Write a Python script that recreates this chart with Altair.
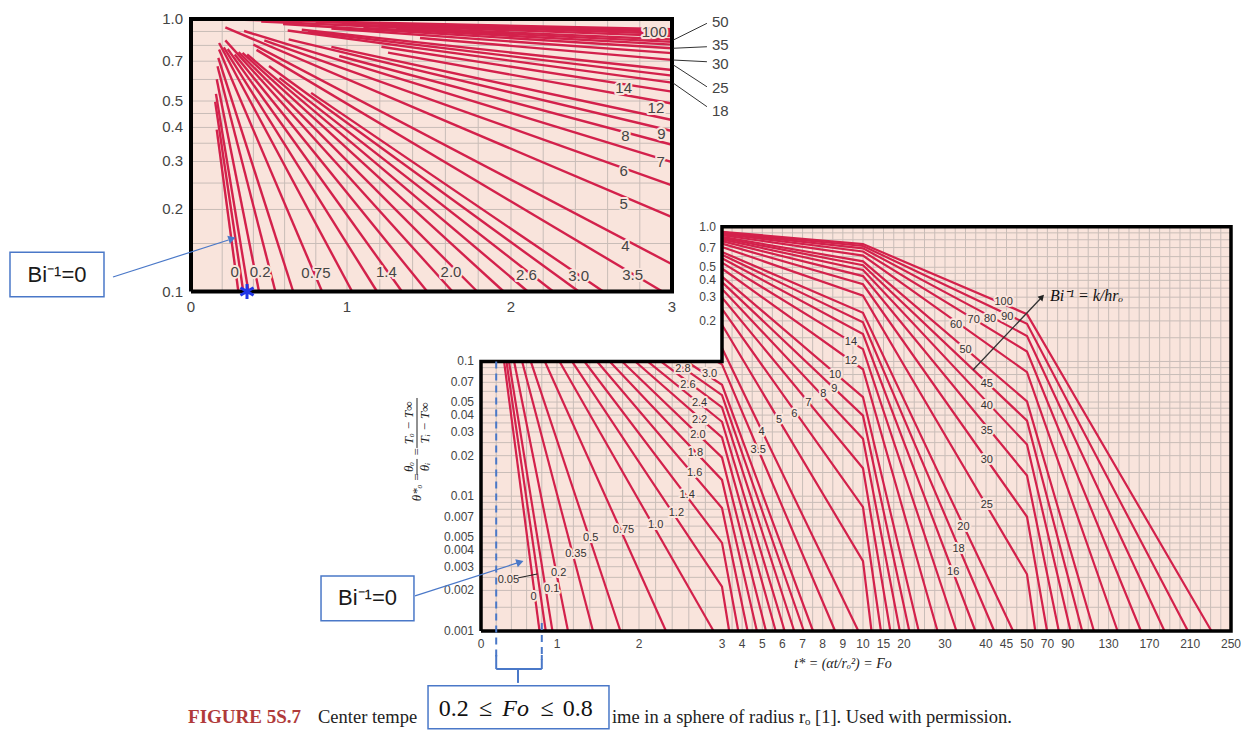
import altair as alt
import pandas as pd

BG = "#f9e4dc"
GRID = "#c9bdb8"
RED = "#d3214b"
BLUE = "#4a78c8"
TXT = "#444444"

# ---------------- data: inverse Biot number of each curve ----------------
bi_inv = [0, 0.05, 0.1, 0.2, 0.35, 0.5, 0.75, 1.0, 1.2, 1.4, 1.6, 1.8, 2.0, 2.2, 2.4, 2.6, 2.8, 3.0, 3.5,
          4, 5, 6, 7, 8, 9, 10, 12, 14, 16, 18, 20, 25, 30, 35, 40, 45, 50, 60, 70, 80, 90, 100]

# main chart: Fo / theta points of each curve
main_fo = [
    [0.3035, 0.770], [0.335, 0.852], [0.368, 0.940], [0.436, 1.134], [0.541, 1.439], [0.655, 1.773],
    [0.840, 2.325], [1.031, 2.898],
    [1.183, 3, 3.356], [1.335, 3, 3.809], [1.489, 3, 4.270], [1.643, 3, 4.732], [1.794, 3, 5.183],
    [1.955, 3, 5.666], [2.104, 3, 6.111], [2.262, 3, 6.586], [2.421, 3, 7.063], [2.573, 3, 7.519],
    [2.94, 3, 8.615],
    [3, 9.77],
    [3, 10, 12.07], [3, 10, 14.37], [3, 10, 16.67], [3, 10, 18.97], [3, 10, 21.29], [3, 10, 23.59],
    [3, 10, 28.18], [3, 10, 32.79], [3, 10, 37.40], [3, 10, 42.01], [3, 10, 46.61],
    [3, 10, 50, 58.14], [3, 10, 50, 69.66], [3, 10, 50, 81.17], [3, 10, 50, 92.69], [3, 10, 50, 104.1],
    [3, 10, 50, 115.6], [3, 10, 50, 138.8], [3, 10, 50, 161.7], [3, 10, 50, 184.8], [3, 10, 50, 207.8],
    [3, 10, 50, 230.8],
]
main_theta = [
    [0.1, 0.001], [0.1, 0.001], [0.1, 0.001], [0.1, 0.001], [0.1, 0.001], [0.1, 0.001],
    [0.1, 0.001], [0.1, 0.001],
    [0.1, 0.00213, 0.001], [0.1, 0.00451, 0.001], [0.1, 0.00819, 0.001], [0.1, 0.01322, 0.001],
    [0.1, 0.01942, 0.001], [0.1, 0.02731, 0.001], [0.1, 0.03569, 0.001], [0.1, 0.04555, 0.001],
    [0.1, 0.05628, 0.001], [0.1, 0.06718, 0.001], [0.1, 0.0951, 0.001],
    [0.1259, 0.001],
    [0.1874, 0.003301, 0.001], [0.2453, 0.008287, 0.001], [0.2982, 0.01613, 0.001], [0.3456, 0.02666, 0.001],
    [0.3881, 0.03962, 0.001], [0.4260, 0.05440, 0.001], [0.4896, 0.08748, 0.001], [0.5416, 0.1234, 0.001],
    [0.5840, 0.1597, 0.001], [0.6197, 0.1955, 0.001], [0.6498, 0.2298, 0.001],
    [0.7079, 0.3077, 0.002636, 0.001], [0.7496, 0.3741, 0.007044, 0.001], [0.7809, 0.4301, 0.01424, 0.001],
    [0.8053, 0.4777, 0.02417, 0.001], [0.8246, 0.5181, 0.03638, 0.001], [0.8406, 0.5531, 0.05058, 0.001],
    [0.8653, 0.6106, 0.08331, 0.001], [0.8833, 0.6549, 0.1185, 0.001], [0.8971, 0.6905, 0.1547, 0.001],
    [0.9079, 0.7193, 0.1902, 0.001], [0.9167, 0.7435, 0.2244, 0.001],
]

# inset (0 <= Fo <= 3, 0.1 <= theta <= 1)
inset_fo = [
    [0.165, 0.3035], [0.155, 0.335], [0.16, 0.368], [0.165, 0.436], [0.17, 0.541], [0.175, 0.655],
    [0.18, 0.840], [0.18, 1.031], [0.21, 1.183], [0.235, 1.335], [0.28, 1.489], [0.22, 1.643],
    [0.305, 1.794], [0.33, 1.955], [0.36, 2.104], [0.567, 2.262], [0.5, 2.421], [0.77, 2.573],
    [0.42, 2.94], [0.40, 3], [0.22, 3], [0.47, 3], [0.34, 3], [0.95, 3], [0.626, 3], [0.9, 3],
    [1.25, 3], [1.21, 3], [0.62, 3], [0.75, 3], [0.71, 3], [1.445, 3], [0.9, 3], [0.59, 3],
    [1.1, 3], [1.3, 3], [0.45, 3], [1.0, 3], [1.2, 3], [0.8, 3], [1.55, 3], [0.188, 3],
]
inset_theta = [
    [0.3924, 0.1], [0.4969, 0.1], [0.5313, 0.1], [0.6008, 0.1], [0.6711, 0.1], [0.7198, 0.1],
    [0.7733, 0.1], [0.8166, 0.1], [0.7874, 0.1], [0.7760, 0.1], [0.7409, 0.1], [0.8349, 0.1],
    [0.7560, 0.1], [0.7510, 0.1], [0.7413, 0.1], [0.6079, 0.1], [0.6723, 0.1], [0.5357, 0.1],
    [0.7703, 0.1], [0.8057, 0.1259], [0.9319, 0.1874], [0.8347, 0.2453], [0.9035, 0.2982], [0.7317, 0.3456],
    [0.8415, 0.3881], [0.7898, 0.4260],
    [0.7529, 0.4896], [0.7907, 0.5416], [0.9076, 0.5840], [0.8978, 0.6197], [0.9131, 0.6498], [0.8518, 0.7079],
    [0.9234, 0.7496], [0.9589, 0.7809],
    [0.9279, 0.8053], [0.9232, 0.8246], [0.9791, 0.8406], [0.9560, 0.8653], [0.9539, 0.8833], [0.9740, 0.8971],
    [0.9527, 0.9079], [0.9973, 0.9167],
]

# curve labels (main)
main_lab_text = ["0", "0.05", "0.1", "0.2", "0.35", "0.5", "0.75", "1.0", "1.2", "1.4", "1.6", "1.8", "2.0",
                 "2.2", "2.4", "2.6", "2.8", "3.0", "3.5", "4", "5", "6", "7", "8", "9", "10", "12", "14",
                 "16", "18", "20", "25", "30", "35", "40", "45", "50", "60", "70", "80", "90", "100"]
main_lab_fo = [0.69, 0.36, 0.93, 1.02, 1.23, 1.41, 1.81, 2.20, 2.45, 2.58, 2.67, 2.68, 2.71,
               2.73, 2.73, 2.59, 2.53, 2.85, 4.80, 4.97, 5.83, 6.59, 7.29, 8.03, 8.58, 8.61, 9.40, 9.40,
               32.0, 33.3, 34.5, 40.2, 40.2, 40.2, 40.2, 40.2, 35.0, 32.7, 37.0, 41.0, 45.2, 44.3]
main_lab_th = [0.00178, 0.00239, 0.00204, 0.00269, 0.00373, 0.00488, 0.00562, 0.00612, 0.00748, 0.0102,
               0.0148, 0.0211, 0.0285, 0.0368, 0.0494, 0.067, 0.0875, 0.0807, 0.0220, 0.0301, 0.0368,
               0.0406, 0.0494, 0.0570, 0.0622, 0.0794, 0.101, 0.140,
               0.00276, 0.00404, 0.00589, 0.00861, 0.0186, 0.0307, 0.0468, 0.068, 0.1217, 0.1866,
               0.203, 0.2056, 0.215, 0.278]

# curve labels (inset)
inset_lab_text = ["0", "0.2", "0.75", "1.4", "2.0", "2.6", "3.0", "3.5", "4", "5", "6", "7", "8", "9",
                  "12", "14", "100"]
inset_lab_fo = [0.28, 0.443, 0.801, 1.24, 1.634, 2.096, 2.42, 2.755, 2.71, 2.70, 2.70, 2.93, 2.71, 2.935,
                2.90, 2.70, 2.89]
inset_lab_th = [0.118, 0.118, 0.1167, 0.118, 0.118, 0.115, 0.114, 0.115, 0.147, 0.2095, 0.2775, 0.298,
                0.372, 0.3775, 0.47, 0.56, 0.898]
inset_out_text = ["50", "35", "30", "25", "18"]
inset_out_th = [0.975, 0.803, 0.684, 0.558, 0.4597]
inset_lead_from = [0.964, 0.791, 0.697, 0.564, 0.4767]
inset_lead_to = [0.8376, 0.781, 0.707, 0.678, 0.581]

# tick labels
main_xticks = [0, 1, 2, 3, 4, 5, 6, 7, 8, 9, 10, 15, 20, 30, 40, 45, 50, 70, 90, 130, 170, 210, 250]
main_yticks_lo = [0.1, 0.07, 0.05, 0.04, 0.03, 0.02, 0.01, 0.007, 0.005, 0.004, 0.003, 0.002, 0.001]
main_yticks_hi = [1.0, 0.7, 0.5, 0.4, 0.3, 0.2]
main_yticks_hi_text = ["1.0", "0.7", "0.5", "0.4", "0.3", "0.2"]
inset_xticks = [0, 1, 2, 3]
inset_yticks = [1.0, 0.7, 0.5, 0.4, 0.3, 0.2, 0.1]
inset_yticks_text = ["1.0", "0.7", "0.5", "0.4", "0.3", "0.2", "0.1"]

# grid lines
main_vgrid_lo = [0.2, 0.4, 0.6, 0.8, 1.0, 1.2, 1.4, 1.6, 1.8, 2.0, 2.2, 2.4, 2.6, 2.8]
main_vgrid_hi = [3.5, 4, 4.5, 5, 5.5, 6, 6.5, 7, 7.5, 8, 8.5, 9, 9.5, 10, 12.5, 15, 17.5, 20, 22.5, 25,
                 27.5, 30, 32.5, 35, 37.5, 40, 42.5, 45, 47.5, 50, 60, 70, 80, 90, 100, 110, 120, 130,
                 140, 150, 160, 170, 180, 190, 200, 210, 220, 230, 240]
main_hgrid_lo = [0.0015, 0.002, 0.0025, 0.003, 0.0035, 0.004, 0.0045, 0.005, 0.006, 0.007, 0.008, 0.009,
                 0.01, 0.015, 0.02, 0.025, 0.03, 0.035, 0.04, 0.045, 0.05, 0.06, 0.07, 0.08, 0.09]
main_hgrid_hi = [0.15, 0.2, 0.25, 0.3, 0.35, 0.4, 0.45, 0.5, 0.6, 0.7, 0.8, 0.9]
inset_vgrid = [0.2, 0.4, 0.6, 0.8, 1.0, 1.2, 1.4, 1.6, 1.8, 2.0, 2.2, 2.4, 2.6, 2.8]
inset_hgrid = [0.15, 0.2, 0.25, 0.3, 0.35, 0.4, 0.45, 0.5, 0.6, 0.7, 0.8, 0.9]

# ---------------- scales ----------------
MX = alt.Scale(type="linear", domain=[0, 1, 2, 3, 10, 50, 250],
               range=[473, 549, 631, 714, 855, 1019, 1223], zero=False, nice=False)
MY = alt.Scale(type="log", domain=[0.001, 1], range=[623, 218.7], nice=False)
IX = alt.Scale(type="linear", domain=[0, 1, 2, 3], range=[183, 339, 503, 664], zero=False, nice=False)
IY = alt.Scale(type="log", domain=[0.1, 1], range=[283.5, 11], nice=False)


def enc(sx, sy, **kw):
    d = dict(x=alt.X("fo:Q", scale=sx, axis=None), y=alt.Y("th:Q", scale=sy, axis=None))
    d.update(kw)
    return d


def lines_df(fo_list, th_list):
    rows = []
    for b, fs, ts in zip(bi_inv, fo_list, th_list):
        for k, (f, t) in enumerate(zip(fs, ts)):
            rows.append(dict(bi=str(b), k=k, fo=f, th=t))
    return pd.DataFrame(rows)


def texts(df, sx, sy, halo=False, **mk):
    base = alt.Chart(df).encode(**enc(sx, sy, text="t:N"))
    out = []
    if halo:
        h = dict(mk)
        h.update(color=BG, stroke=BG, strokeWidth=4, strokeJoin="round")
        out.append(base.mark_text(**h))
    out.append(base.mark_text(**mk))
    return out


def rules(df, sx, sy, **mk):
    return alt.Chart(df).mark_rule(**mk).encode(**enc(sx, sy, x2=alt.X2("fo2:Q"), y2=alt.Y2("th2:Q")))


def rects(df, sx, sy, **mk):
    return alt.Chart(df).mark_rect(**mk).encode(**enc(sx, sy, x2=alt.X2("fo2:Q"), y2=alt.Y2("th2:Q")))


# ================= MAIN CHART =================
m = []
m.append(rects(pd.DataFrame(dict(fo=[0, 3], fo2=[250, 250], th=[0.001, 0.1], th2=[0.1, 1.0])), MX, MY,
               color=BG))
vg = pd.DataFrame(dict(fo=main_vgrid_lo + main_vgrid_hi, fo2=main_vgrid_lo + main_vgrid_hi,
                       th=[0.001] * (len(main_vgrid_lo) + len(main_vgrid_hi)),
                       th2=[0.1] * len(main_vgrid_lo) + [1.0] * len(main_vgrid_hi)))
hg = pd.DataFrame(dict(th=main_hgrid_lo + [0.1] + main_hgrid_hi, th2=main_hgrid_lo + [0.1] + main_hgrid_hi,
                       fo=[0] * len(main_hgrid_lo) + [3] * (len(main_hgrid_hi) + 1),
                       fo2=[250] * (len(main_hgrid_lo) + len(main_hgrid_hi) + 1)))
m.append(rules(vg, MX, MY, color=GRID, strokeWidth=1))
m.append(rules(hg, MX, MY, color=GRID, strokeWidth=1))
m.append(alt.Chart(lines_df(main_fo, main_theta)).mark_line(color=RED, strokeWidth=2.2).encode(
    **enc(MX, MY, detail="bi:N", order="k:Q")))
m += texts(pd.DataFrame(dict(t=main_lab_text, fo=main_lab_fo, th=main_lab_th)), MX, MY, halo=True,
           font="Liberation Sans", fontSize=11, color="#333333")
m.append(rules(pd.DataFrame(dict(fo=[0.487], fo2=[0.742], th=[0.002477], th2=[0.00265])), MX, MY,
               color="#222222", strokeWidth=1))
frame = pd.DataFrame(dict(fo=[0, 0, 3, 3, 250, 250, 0], th=[0.001, 0.1, 0.1, 1.0, 1.0, 0.001, 0.001],
                          k=list(range(7))))
m.append(alt.Chart(frame).mark_line(color="black", strokeWidth=3.5, strokeJoin="miter").encode(
    **enc(MX, MY, order="k:Q")))
# tick labels
m += texts(pd.DataFrame(dict(t=[str(v) for v in main_xticks], fo=main_xticks, th=[0.001] * len(main_xticks))),
           MX, MY, font="Liberation Sans", fontSize=12, color=TXT, dy=13)
m += texts(pd.DataFrame(dict(t=[str(v) for v in main_yticks_lo], fo=[0] * len(main_yticks_lo),
                             th=main_yticks_lo)), MX, MY, font="Liberation Sans", fontSize=12, color=TXT,
           align="right", dx=-7)
m += texts(pd.DataFrame(dict(t=main_yticks_hi_text, fo=[3] * len(main_yticks_hi), th=main_yticks_hi)),
           MX, MY, font="Liberation Sans", fontSize=12, color=TXT, align="right", dx=-6)
# axis titles
m += texts(pd.DataFrame(dict(t=["t* = (αt/rₒ²) = Fo"], fo=[9.01], th=[0.00057])), MX, MY,
           font="Liberation Serif", fontStyle="italic", fontSize=14, color="#222222")
ylab = pd.DataFrame(dict(t=["θ*ₒ =", "θₒ", "θᵢ", "=", "Tₒ − T∞", "Tᵢ − T∞"],
                         fo=[-0.842, -0.947, -0.737, -0.842, -0.947, -0.737],
                         th=[0.01172, 0.01648, 0.01648, 0.02132, 0.03498, 0.03498]))
m += texts(ylab, MX, MY, font="Liberation Serif", fontStyle="italic", fontSize=13, color="#222222",
           angle=270)
m.append(rules(pd.DataFrame(dict(fo=[-0.842, -0.842], fo2=[-0.842, -0.842], th=[0.01891, 0.05358],
                                 th2=[0.01439, 0.02282])), MX, MY, color="#222222", strokeWidth=1))
# Bi^-1 arrow
m += texts(pd.DataFrame(dict(t=["Bi⁻¹ = k/hrₒ"], fo=[72.5], th=[0.306])), MX, MY,
           font="Liberation Serif", fontStyle="italic", fontSize=16, color="#111111", align="left")
m.append(rules(pd.DataFrame(dict(fo=[36.83], fo2=[64.7], th=[0.0865], th2=[0.301])), MX, MY,
               color="#333333", strokeWidth=1.3))
m.append(alt.Chart(pd.DataFrame(dict(fo=[64.7], th=[0.301]))).mark_point(
    shape="triangle-up", filled=True, size=45, angle=43.4, color="#222222", opacity=1).encode(**enc(MX, MY)))
# blue dashed lines and brace
m.append(rules(pd.DataFrame(dict(fo=[0.2, 0.8], fo2=[0.2, 0.8], th=[0.1, 0.001148], th2=[0.000611, 0.000611])),
               MX, MY, color=BLUE, strokeWidth=2, strokeDash=[7, 5]))
m.append(rules(pd.DataFrame(dict(fo=[0.2, 0.8, 0.2, 0.487], fo2=[0.2, 0.8, 0.8, 0.487],
                                 th=[0.000664, 0.000664, 0.000522, 0.000522],
                                 th2=[0.000522, 0.000522, 0.000522, 0.000412])),
               MX, MY, color=BLUE, strokeWidth=2))
# Bi^-1 = 0 box (main)
m.append(rects(pd.DataFrame(dict(fo=[-2.105], fo2=[-0.882], th=[0.001189], th2=[0.002564])), MX, MY,
               fill="white", stroke=BLUE, strokeWidth=1.5))
m += texts(pd.DataFrame(dict(t=["Bi⁻¹=0"], fo=[-1.493], th=[0.001745])), MX, MY,
           font="Liberation Sans", fontSize=22, color="#1a1a1a")
m.append(rules(pd.DataFrame(dict(fo=[-0.868], fo2=[0.49], th=[0.001821], th2=[0.003215])), MX, MY,
               color=BLUE, strokeWidth=1.2))
m.append(alt.Chart(pd.DataFrame(dict(fo=[0.513], th=[0.003244]))).mark_point(
    shape="triangle-up", filled=True, size=70, angle=72.7, color=BLUE, opacity=1).encode(**enc(MX, MY)))
# caption (the parts not hidden by the boxed note)
m += texts(pd.DataFrame(dict(t=["FIGURE 5S.7"], fo=[-3.855], th=[0.0002317])), MX, MY,
           font="Liberation Serif", fontWeight="bold", fontSize=19, color="#b03a3a", align="left")
m += texts(pd.DataFrame(dict(t=["Center tempe", "ime in a sphere of radius rₒ [1]. Used with permission."],
                             fo=[-2.145, 1.67], th=[0.0002317, 0.0002317])), MX, MY,
           font="Liberation Serif", fontSize=18.5, color="#222222", align="left")
# 0.2 <= Fo <= 0.8 box
m.append(rects(pd.DataFrame(dict(fo=[-0.697], fo2=[1.634], th=[0.000188], th2=[0.000392])), MX, MY,
               fill="white", stroke=BLUE, strokeWidth=1.5))
m += texts(pd.DataFrame(dict(t=["0.2"], fo=[-0.16], th=[0.000264])), MX, MY,
           font="Liberation Serif", fontSize=24, color="#111111", align="right")
m += texts(pd.DataFrame(dict(t=["≤", "≤"], fo=[0.06, 0.87], th=[0.000264, 0.000264])), MX, MY,
           font="Liberation Serif", fontSize=24, color="#111111", align="center")
m += texts(pd.DataFrame(dict(t=["Fo"], fo=[0.455], th=[0.000264])), MX, MY,
           font="Liberation Serif", fontStyle="italic", fontSize=24, color="#111111", align="center")
m += texts(pd.DataFrame(dict(t=["0.8"], fo=[1.07], th=[0.000264])), MX, MY,
           font="Liberation Serif", fontSize=24, color="#111111", align="left")

main = alt.layer(*m)

# ================= INSET =================
n = []
n.append(rects(pd.DataFrame(dict(fo=[0], fo2=[3], th=[0.1], th2=[1.0])), IX, IY, color=BG))
n.append(rules(pd.DataFrame(dict(fo=inset_vgrid, fo2=inset_vgrid, th=[0.1] * len(inset_vgrid),
                                 th2=[1.0] * len(inset_vgrid))), IX, IY, color=GRID, strokeWidth=1))
n.append(rules(pd.DataFrame(dict(th=inset_hgrid, th2=inset_hgrid, fo=[0] * len(inset_hgrid),
                                 fo2=[3] * len(inset_hgrid))), IX, IY, color=GRID, strokeWidth=1))
n.append(alt.Chart(lines_df(inset_fo, inset_theta)).mark_line(color=RED, strokeWidth=2.4).encode(
    **enc(IX, IY, detail="bi:N", order="k:Q")))
n += texts(pd.DataFrame(dict(t=inset_lab_text, fo=inset_lab_fo, th=inset_lab_th)), IX, IY, halo=True,
           font="Liberation Sans", fontSize=15, color=TXT)
iframe = pd.DataFrame(dict(fo=[0, 0, 3, 3, 0], th=[0.1, 1.0, 1.0, 0.1, 0.1], k=list(range(5))))
n.append(alt.Chart(iframe).mark_line(color="black", strokeWidth=4, strokeJoin="miter").encode(
    **enc(IX, IY, order="k:Q")))
n.append(rules(pd.DataFrame(dict(fo=[3.217] * 5, fo2=[3.009] * 5, th=inset_lead_from, th2=inset_lead_to)),
               IX, IY, color="#333333", strokeWidth=1))
n += texts(pd.DataFrame(dict(t=inset_out_text, fo=[3.248] * 5, th=inset_out_th)), IX, IY,
           font="Liberation Sans", fontSize=15, color=TXT, align="left")
n += texts(pd.DataFrame(dict(t=[str(v) for v in inset_xticks], fo=inset_xticks, th=[0.1] * 4)), IX, IY,
           font="Liberation Sans", fontSize=15, color=TXT, dy=15)
n += texts(pd.DataFrame(dict(t=inset_yticks_text, fo=[0] * 7, th=inset_yticks)), IX, IY,
           font="Liberation Sans", fontSize=15, color=TXT, align="right", dx=-8)
# asterisk
n.append(alt.Chart(pd.DataFrame(dict(fo=[0.359], th=[0.1]))).mark_point(
    shape="M0,-1L0,1M-0.866,-0.5L0.866,0.5M-0.866,0.5L0.866,-0.5", filled=False, size=230,
    strokeWidth=3, color="#1f35e6", opacity=1).encode(**enc(IX, IY)))
# Bi^-1 = 0 box (inset)
n.append(rects(pd.DataFrame(dict(fo=[-1.1603], fo2=[-0.5577], th=[0.0957], th2=[0.1393])), IX, IY,
               fill="white", stroke=BLUE, strokeWidth=1.5))
n += texts(pd.DataFrame(dict(t=["Bi⁻¹=0"], fo=[-0.859], th=[0.1150])), IX, IY,
           font="Liberation Sans", fontSize=22, color="#1a1a1a")
n.append(rules(pd.DataFrame(dict(fo=[-0.5], fo2=[0.24], th=[0.1130], th2=[0.1545])), IX, IY,
               color=BLUE, strokeWidth=1.2))
n.append(alt.Chart(pd.DataFrame(dict(fo=[0.2628], th=[0.1564]))).mark_point(
    shape="triangle-up", filled=True, size=70, angle=72.5, color=BLUE, opacity=1).encode(**enc(IX, IY)))

inset = alt.layer(*n)

chart = alt.layer(main, inset).resolve_scale(x="independent", y="independent").properties(
    width=1233, height=722, padding=0, background="white",
    autosize=alt.AutoSizeParams(type="none")
).configure_view(stroke=None)

chart.save("out.html", embed_options={"renderer": "svg", "actions": False})
